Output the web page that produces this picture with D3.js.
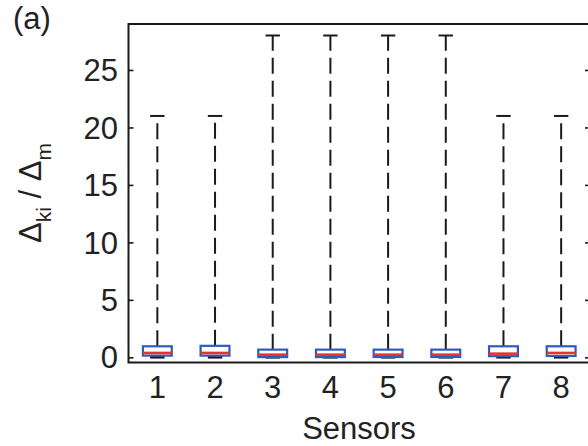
<!DOCTYPE html>
<html>
<head>
<meta charset="utf-8">
<script src="https://cdn.jsdelivr.net/npm/d3@7"></script>
<style>
  body { margin: 0; background: #fff; }
  text { font-family: "Liberation Sans", Arial, sans-serif; fill: #222; }
</style>
</head>
<body>
<div id="chart-area"></div>
<script>
// box plot summary per sensor
var sensors = [1, 2, 3, 4, 5, 6, 7, 8];
var lowerWhisker = [0, 0, 0, 0, 0, 0, 0, 0];
var q1 = [0.15, 0.15, 0.02, 0.02, 0.03, 0.03, 0.10, 0.12];
var median = [0.38, 0.38, 0.23, 0.23, 0.23, 0.23, 0.32, 0.38];
var q3 = [0.96, 1.0, 0.67, 0.67, 0.67, 0.67, 0.96, 0.96];
var upperWhisker = [21, 21, 28, 28, 28, 28, 21, 21];
var yTicks = [0, 5, 10, 15, 20, 25];

var W = 588, H = 446;
var margins = { top: 24, bottom: 83.5, left: 128.5, right: -2 };
var fontSize = '31px';

var svg = d3.select("#chart-area")
    .append('svg')
    .attr('width', W)
    .attr('height', H);

var x = d3.scaleLinear()
    .domain([0.5, 8.5])
    .range([margins.left, W - margins.right]);

var y = d3.scaleLinear()
    .domain([-0.45, 29])
    .range([H - margins.bottom, margins.top]);

var data = sensors.map((s, i) => ({
    s: s, lo: lowerWhisker[i], q1: q1[i], med: median[i], q3: q3[i], hi: upperWhisker[i]
}));

var axisColor = '#1a1a1a';

// axes: left + right with inward ticks, no x ticks
var yAxisL = d3.axisRight(y).tickValues(yTicks).tickSize(5).tickFormat('');
var yAxisR = d3.axisLeft(y).tickValues(yTicks).tickSize(5).tickFormat('');

svg.append('g')
    .attr('transform', `translate(${x(0.5)}, 0)`)
    .call(yAxisL)
    .call(g => g.select('.domain').remove());
svg.append('g')
    .attr('transform', `translate(${x(8.5)}, 0)`)
    .call(yAxisR)
    .call(g => g.select('.domain').remove());
svg.selectAll('.tick line').attr('stroke', axisColor).attr('stroke-width', 1.6);

// frame
svg.append('rect')
    .attr('x', x(0.5))
    .attr('y', y(29))
    .attr('width', x(8.5) - x(0.5))
    .attr('height', y(-0.45) - y(29))
    .attr('fill', 'none')
    .attr('stroke', axisColor)
    .attr('stroke-width', 2);

// y tick labels
svg.selectAll('.ylab')
    .data(yTicks)
    .enter()
    .append('text')
    .attr('x', 118)
    .attr('y', d => y(d))
    .attr('dy', '0.36em')
    .attr('text-anchor', 'end')
    .attr('font-size', fontSize)
    .text(d => d);

// x tick labels
svg.selectAll('.xlab')
    .data(sensors)
    .enter()
    .append('text')
    .attr('x', d => x(d))
    .attr('y', 398)
    .attr('text-anchor', 'middle')
    .attr('font-size', fontSize)
    .text(d => d);

svg.append('text')
    .attr('x', 359)
    .attr('y', 439)
    .attr('text-anchor', 'middle')
    .attr('font-size', fontSize)
    .text('Sensors');

svg.append('text')
    .attr('x', 13)
    .attr('y', 29)
    .attr('font-size', fontSize)
    .text('(a)');

// y label
var yl = svg.append('text')
    .attr('transform', 'translate(41, 193) rotate(-90)')
    .attr('text-anchor', 'middle')
    .attr('font-size', fontSize);
yl.append('tspan').text('\u0394');
yl.append('tspan').attr('font-size', '21px').attr('dy', 10).text('ki');
yl.append('tspan').attr('dy', -10).text(' / \u0394');
yl.append('tspan').attr('font-size', '21px').attr('dy', 10).text('m');

var boxHalf = (x(1.25) - x(1)) ;
var capHalf = boxHalf / 2;

var boxes = svg.selectAll('.box')
    .data(data)
    .enter()
    .append('g');

// whiskers
boxes.append('line')
    .attr('x1', d => x(d.s)).attr('x2', d => x(d.s))
    .attr('y1', d => y(d.q3)).attr('y2', d => y(d.hi))
    .attr('stroke', axisColor)
    .attr('stroke-width', 2)
    .attr('stroke-dasharray', '16,7');
boxes.append('line')
    .attr('x1', d => x(d.s)).attr('x2', d => x(d.s))
    .attr('y1', d => y(d.q1)).attr('y2', d => y(d.lo))
    .attr('stroke', axisColor)
    .attr('stroke-width', 2)
    .attr('stroke-dasharray', '16,7');

// caps
boxes.append('line')
    .attr('x1', d => x(d.s) - capHalf).attr('x2', d => x(d.s) + capHalf)
    .attr('y1', d => y(d.hi)).attr('y2', d => y(d.hi))
    .attr('stroke', axisColor)
    .attr('stroke-width', 2);
boxes.append('line')
    .attr('x1', d => x(d.s) - capHalf).attr('x2', d => x(d.s) + capHalf)
    .attr('y1', d => y(d.lo)).attr('y2', d => y(d.lo))
    .attr('stroke', axisColor)
    .attr('stroke-width', 2.5);

// box
boxes.append('rect')
    .attr('x', d => x(d.s) - boxHalf)
    .attr('y', d => y(d.q3))
    .attr('width', boxHalf * 2)
    .attr('height', d => y(d.q1) - y(d.q3))
    .attr('fill', '#fff')
    .attr('stroke', '#2c5cbc')
    .attr('stroke-width', 2.2);

// median
boxes.append('line')
    .attr('x1', d => x(d.s) - boxHalf).attr('x2', d => x(d.s) + boxHalf)
    .attr('y1', d => y(d.med)).attr('y2', d => y(d.med))
    .attr('stroke', '#e8322e')
    .attr('stroke-width', 2.6);
</script>
</body>
</html>
